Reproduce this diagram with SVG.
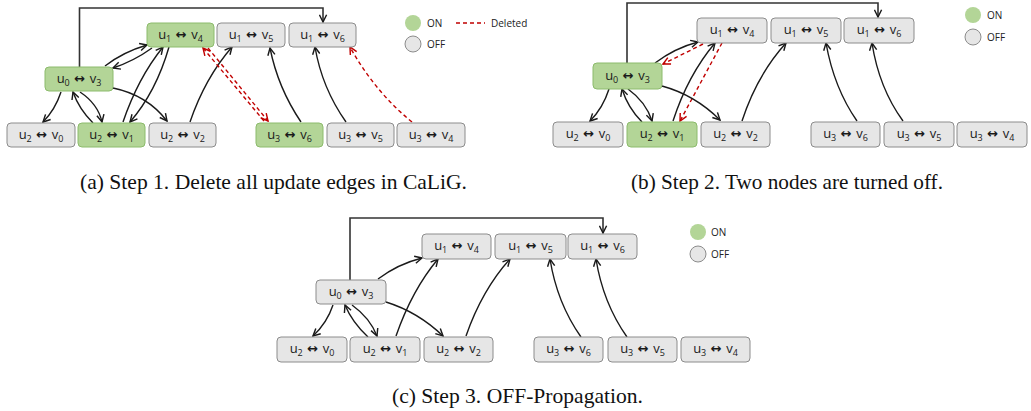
<svg xmlns="http://www.w3.org/2000/svg" width="1031" height="411" viewBox="0 0 1031 411">
<style>
.on{fill:#b3d597;stroke:#8cbb6c;stroke-width:1}
.off{fill:#e6e6e6;stroke:#8c8c8c;stroke-width:1}
.lbl{font-family:"Open Sans","Noto Sans",sans-serif;font-size:13px;fill:#1a1a1a;text-anchor:middle}
.sub{font-size:9px}
.arr{font-family:"DejaVu Sans",sans-serif;font-weight:bold;font-size:13px}
.e{fill:none;stroke:#1a1a1a;stroke-width:1.4;marker-end:url(#ah)}
.d{fill:none;stroke:#c00000;stroke-width:1.4;stroke-dasharray:4 3;marker-end:url(#rh)}
.top{fill:none;stroke:#333;stroke-width:1.6;marker-end:url(#ah)}
.leg{font-family:"Open Sans","Noto Sans",sans-serif;font-size:10px;fill:#222}
.cap{font-family:"Liberation Serif",serif;font-size:21px;fill:#111}
</style>
<defs>
<marker id="ah" viewBox="0 0 10 10" refX="9" refY="5" markerWidth="9" markerHeight="9" orient="auto" markerUnits="userSpaceOnUse"><path d="M1,1 L9,5 L1,9" fill="none" stroke="#1a1a1a" stroke-width="1.6"/></marker>
<marker id="rh" viewBox="0 0 10 10" refX="9" refY="5" markerWidth="9" markerHeight="9" orient="auto" markerUnits="userSpaceOnUse"><path d="M1,1 L9,5 L1,9" fill="none" stroke="#c00000" stroke-width="1.6"/></marker>
</defs>

<!-- Panel (a) -->
<g id="connectors-a">
<path class="top" d="M79.5,67 V8 H323 V22"/>
<path class="e" d="M105,66 Q123,52 147,45"/>
<path class="e" d="M152,48 Q134,61 113,68"/>
<path class="e" d="M61,92 Q55,110 43,122"/>
<path class="e" d="M93,123 Q79,109 73,92"/>
<path class="e" d="M80,92 Q98,104 102,122"/>
<path class="e" d="M123,122 Q138,78 163,47"/>
<path class="e" d="M169,47 Q156,92 130,122"/>
<path class="e" d="M113,88 Q147,95 167,121"/>
<path class="e" d="M190,122 Q205,78 232,47"/>
<path class="d" d="M264,121 L203,48"/>
<path class="d" d="M208,48 L268,121"/>
<path class="e" d="M301,122 Q278,88 270,48"/>
<path class="e" d="M346,122 Q322,88 315,47"/>
<path class="d" d="M412,122 Q375,92 350,47"/>
</g>
<g id="a-u1v4"><rect class="on" x="147" y="23" width="67" height="24" rx="4"/><text class="lbl" x="180.5" y="39">u<tspan class="sub" dy="3">1</tspan><tspan class="arr" dy="-3"> ↔ </tspan>v<tspan class="sub" dy="3">4</tspan></text></g>
<g id="a-u1v5"><rect class="off" x="217" y="23" width="68" height="24" rx="4"/><text class="lbl" x="251" y="39">u<tspan class="sub" dy="3">1</tspan><tspan class="arr" dy="-3"> ↔ </tspan>v<tspan class="sub" dy="3">5</tspan></text></g>
<g id="a-u1v6"><rect class="off" x="289" y="23" width="67" height="24" rx="4"/><text class="lbl" x="322.5" y="39">u<tspan class="sub" dy="3">1</tspan><tspan class="arr" dy="-3"> ↔ </tspan>v<tspan class="sub" dy="3">6</tspan></text></g>
<g id="a-u0v3"><rect class="on" x="45" y="67" width="68" height="24" rx="4"/><text class="lbl" x="79" y="83">u<tspan class="sub" dy="3">0</tspan><tspan class="arr" dy="-3"> ↔ </tspan>v<tspan class="sub" dy="3">3</tspan></text></g>
<g id="a-u2v0"><rect class="off" x="7" y="123" width="68" height="24" rx="4"/><text class="lbl" x="41" y="139">u<tspan class="sub" dy="3">2</tspan><tspan class="arr" dy="-3"> ↔ </tspan>v<tspan class="sub" dy="3">0</tspan></text></g>
<g id="a-u2v1"><rect class="on" x="78" y="123" width="67" height="24" rx="4"/><text class="lbl" x="111.5" y="139">u<tspan class="sub" dy="3">2</tspan><tspan class="arr" dy="-3"> ↔ </tspan>v<tspan class="sub" dy="3">1</tspan></text></g>
<g id="a-u2v2"><rect class="off" x="149" y="123" width="67" height="24" rx="4"/><text class="lbl" x="182.5" y="139">u<tspan class="sub" dy="3">2</tspan><tspan class="arr" dy="-3"> ↔ </tspan>v<tspan class="sub" dy="3">2</tspan></text></g>
<g id="a-u3v6"><rect class="on" x="256" y="123" width="67" height="24" rx="4"/><text class="lbl" x="289.5" y="139">u<tspan class="sub" dy="3">3</tspan><tspan class="arr" dy="-3"> ↔ </tspan>v<tspan class="sub" dy="3">6</tspan></text></g>
<g id="a-u3v5"><rect class="off" x="327" y="123" width="67" height="24" rx="4"/><text class="lbl" x="360.5" y="139">u<tspan class="sub" dy="3">3</tspan><tspan class="arr" dy="-3"> ↔ </tspan>v<tspan class="sub" dy="3">5</tspan></text></g>
<g id="a-u3v4"><rect class="off" x="397" y="123" width="68" height="24" rx="4"/><text class="lbl" x="431" y="139">u<tspan class="sub" dy="3">3</tspan><tspan class="arr" dy="-3"> ↔ </tspan>v<tspan class="sub" dy="3">4</tspan></text></g>
<g id="a-legend">
<circle cx="413" cy="23" r="8" fill="#b3d597"/>
<circle cx="413" cy="44" r="8" class="off"/>
<text class="leg" x="427" y="27">ON</text>
<text class="leg" x="427" y="48">OFF</text>
<line x1="456" y1="23" x2="485" y2="23" stroke="#c00000" stroke-width="1.4" stroke-dasharray="4 3"/>
<text class="leg" x="491" y="27">Deleted</text>
</g>
<text class="cap" x="80" y="189" textLength="387" lengthAdjust="spacingAndGlyphs">(a)  Step 1. Delete all update edges in CaLiG.</text>

<!-- Panel (b) -->
<g id="connectors-b">
<path class="top" d="M627,63 V3 H878 V17"/>
<path class="e" d="M655,63 Q675,48 698,42"/>
<path class="d" d="M703,44 L663,64"/>
<path class="e" d="M609,89 Q603,108 590,121"/>
<path class="e" d="M642,122 Q628,108 622,89"/>
<path class="e" d="M628,89 Q646,102 652,121"/>
<path class="e" d="M673,121 Q688,75 715,43"/>
<path class="d" d="M722,43 L680,121"/>
<path class="e" d="M662,86 Q695,95 720,120"/>
<path class="e" d="M742,121 Q757,75 786,43"/>
<path class="e" d="M857,121 Q834,88 826,43"/>
<path class="e" d="M903,121 Q879,88 872,43"/>
</g>
<g id="b-u1v4"><rect class="off" x="697" y="18" width="70" height="25" rx="4"/><text class="lbl" x="732" y="34">u<tspan class="sub" dy="3">1</tspan><tspan class="arr" dy="-3"> ↔ </tspan>v<tspan class="sub" dy="3">4</tspan></text></g>
<g id="b-u1v5"><rect class="off" x="771" y="18" width="70" height="25" rx="4"/><text class="lbl" x="806" y="34">u<tspan class="sub" dy="3">1</tspan><tspan class="arr" dy="-3"> ↔ </tspan>v<tspan class="sub" dy="3">5</tspan></text></g>
<g id="b-u1v6"><rect class="off" x="844" y="18" width="70" height="25" rx="4"/><text class="lbl" x="879" y="34">u<tspan class="sub" dy="3">1</tspan><tspan class="arr" dy="-3"> ↔ </tspan>v<tspan class="sub" dy="3">6</tspan></text></g>
<g id="b-u0v3"><rect class="on" x="593" y="63" width="69" height="26" rx="4"/><text class="lbl" x="627.5" y="80">u<tspan class="sub" dy="3">0</tspan><tspan class="arr" dy="-3"> ↔ </tspan>v<tspan class="sub" dy="3">3</tspan></text></g>
<g id="b-u2v0"><rect class="off" x="553" y="122" width="70" height="25" rx="4"/><text class="lbl" x="588" y="138">u<tspan class="sub" dy="3">2</tspan><tspan class="arr" dy="-3"> ↔ </tspan>v<tspan class="sub" dy="3">0</tspan></text></g>
<g id="b-u2v1"><rect class="on" x="627" y="122" width="70" height="25" rx="4"/><text class="lbl" x="662" y="138">u<tspan class="sub" dy="3">2</tspan><tspan class="arr" dy="-3"> ↔ </tspan>v<tspan class="sub" dy="3">1</tspan></text></g>
<g id="b-u2v2"><rect class="off" x="701" y="122" width="69" height="25" rx="4"/><text class="lbl" x="735.5" y="138">u<tspan class="sub" dy="3">2</tspan><tspan class="arr" dy="-3"> ↔ </tspan>v<tspan class="sub" dy="3">2</tspan></text></g>
<g id="b-u3v6"><rect class="off" x="811" y="122" width="69" height="25" rx="4"/><text class="lbl" x="845.5" y="138">u<tspan class="sub" dy="3">3</tspan><tspan class="arr" dy="-3"> ↔ </tspan>v<tspan class="sub" dy="3">6</tspan></text></g>
<g id="b-u3v5"><rect class="off" x="884" y="122" width="70" height="25" rx="4"/><text class="lbl" x="919" y="138">u<tspan class="sub" dy="3">3</tspan><tspan class="arr" dy="-3"> ↔ </tspan>v<tspan class="sub" dy="3">5</tspan></text></g>
<g id="b-u3v4"><rect class="off" x="957" y="122" width="70" height="25" rx="4"/><text class="lbl" x="992" y="138">u<tspan class="sub" dy="3">3</tspan><tspan class="arr" dy="-3"> ↔ </tspan>v<tspan class="sub" dy="3">4</tspan></text></g>
<g id="b-legend">
<circle cx="973" cy="15" r="8" fill="#b3d597"/>
<circle cx="973" cy="37" r="8" class="off"/>
<text class="leg" x="987" y="19">ON</text>
<text class="leg" x="987" y="41">OFF</text>
</g>
<text class="cap" x="631" y="189" textLength="312" lengthAdjust="spacingAndGlyphs">(b)  Step 2. Two nodes are turned off.</text>

<!-- Panel (c) -->
<g id="connectors-c">
<path class="top" d="M350,280 V218 H603 V233"/>
<path class="e" d="M378,279 Q398,264 422,258"/>
<path class="e" d="M333,305 Q327,323 313,336"/>
<path class="e" d="M368,337 Q352,322 345,305"/>
<path class="e" d="M352,305 Q370,318 377,336"/>
<path class="e" d="M396,336 Q412,290 438,259"/>
<path class="e" d="M386,302 Q418,312 443,336"/>
<path class="e" d="M466,336 Q482,290 510,259"/>
<path class="e" d="M581,337 Q557,303 550,259"/>
<path class="e" d="M627,337 Q603,303 596,259"/>
</g>
<g id="c-u1v4"><rect class="off" x="422" y="234" width="69" height="25" rx="4"/><text class="lbl" x="456.5" y="250">u<tspan class="sub" dy="3">1</tspan><tspan class="arr" dy="-3"> ↔ </tspan>v<tspan class="sub" dy="3">4</tspan></text></g>
<g id="c-u1v5"><rect class="off" x="495" y="234" width="71" height="25" rx="4"/><text class="lbl" x="530.5" y="250">u<tspan class="sub" dy="3">1</tspan><tspan class="arr" dy="-3"> ↔ </tspan>v<tspan class="sub" dy="3">5</tspan></text></g>
<g id="c-u1v6"><rect class="off" x="568" y="234" width="69" height="25" rx="4"/><text class="lbl" x="602.5" y="250">u<tspan class="sub" dy="3">1</tspan><tspan class="arr" dy="-3"> ↔ </tspan>v<tspan class="sub" dy="3">6</tspan></text></g>
<g id="c-u0v3"><rect class="off" x="316" y="280" width="70" height="24" rx="4"/><text class="lbl" x="351" y="296">u<tspan class="sub" dy="3">0</tspan><tspan class="arr" dy="-3"> ↔ </tspan>v<tspan class="sub" dy="3">3</tspan></text></g>
<g id="c-u2v0"><rect class="off" x="277" y="337" width="70" height="25" rx="4"/><text class="lbl" x="312" y="353">u<tspan class="sub" dy="3">2</tspan><tspan class="arr" dy="-3"> ↔ </tspan>v<tspan class="sub" dy="3">0</tspan></text></g>
<g id="c-u2v1"><rect class="off" x="350" y="337" width="70" height="25" rx="4"/><text class="lbl" x="385" y="353">u<tspan class="sub" dy="3">2</tspan><tspan class="arr" dy="-3"> ↔ </tspan>v<tspan class="sub" dy="3">1</tspan></text></g>
<g id="c-u2v2"><rect class="off" x="424" y="337" width="69" height="25" rx="4"/><text class="lbl" x="458.5" y="353">u<tspan class="sub" dy="3">2</tspan><tspan class="arr" dy="-3"> ↔ </tspan>v<tspan class="sub" dy="3">2</tspan></text></g>
<g id="c-u3v6"><rect class="off" x="534" y="337" width="69" height="25" rx="4"/><text class="lbl" x="568.5" y="353">u<tspan class="sub" dy="3">3</tspan><tspan class="arr" dy="-3"> ↔ </tspan>v<tspan class="sub" dy="3">6</tspan></text></g>
<g id="c-u3v5"><rect class="off" x="608" y="337" width="69" height="25" rx="4"/><text class="lbl" x="642.5" y="353">u<tspan class="sub" dy="3">3</tspan><tspan class="arr" dy="-3"> ↔ </tspan>v<tspan class="sub" dy="3">5</tspan></text></g>
<g id="c-u3v4"><rect class="off" x="681" y="337" width="69" height="25" rx="4"/><text class="lbl" x="715.5" y="353">u<tspan class="sub" dy="3">3</tspan><tspan class="arr" dy="-3"> ↔ </tspan>v<tspan class="sub" dy="3">4</tspan></text></g>
<g id="c-legend">
<circle cx="698" cy="232" r="8" fill="#b3d597"/>
<circle cx="698" cy="254" r="8" class="off"/>
<text class="leg" x="711" y="236">ON</text>
<text class="leg" x="711" y="258">OFF</text>
</g>
<text class="cap" x="392" y="403" textLength="251" lengthAdjust="spacingAndGlyphs">(c)  Step 3. OFF-Propagation.</text>
</svg>
